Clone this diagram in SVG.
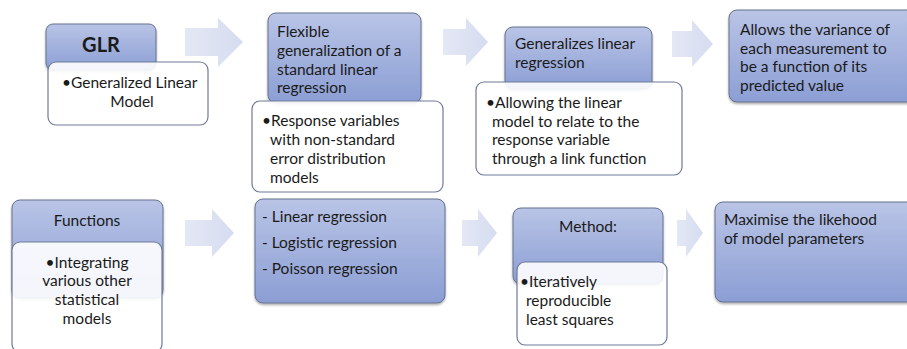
<svg xmlns="http://www.w3.org/2000/svg" width="907" height="349" viewBox="0 0 907 349">
  <defs>
    <linearGradient id="blueFill" x1="0" y1="0" x2="0" y2="1">
      <stop offset="0" stop-color="#b9c4e6"/>
      <stop offset="1" stop-color="#8b9ed4"/>
    </linearGradient>
    <linearGradient id="arrowFill" x1="0" y1="0" x2="1" y2="0">
      <stop offset="0" stop-color="#e4e8f5"/>
      <stop offset="1" stop-color="#d6dcf0"/>
    </linearGradient>
    <filter id="shadow" x="-10%" y="-10%" width="120%" height="130%">
      <feDropShadow dx="0" dy="1.5" stdDeviation="1.2" flood-color="#000" flood-opacity="0.35"/>
    </filter>
  </defs>
  <style>
    .head { fill: url(#blueFill); stroke: #66728f; stroke-width: 1; filter: url(#shadow); }
    .sub { fill: #ffffff; fill-opacity: 0.9; stroke: #6f7a98; stroke-width: 1.2; }
    .arrow { fill: url(#arrowFill); stroke: none; }
    text { font-family: Lato, "Open Sans", "Liberation Sans", sans-serif; font-size: 15.5px; fill: #1a1a1a; }
    .c { text-anchor: middle; }
    .title { font-weight: bold; font-size: 20px; }
  </style>

  <rect width="907" height="349" fill="#ffffff"/>

  <!-- block arrows between steps -->
  <g id="connectors">
    <path class="arrow" d="M185,28 H218 V18 L243,42 L218,67 V56 H185 Z"/>
    <path class="arrow" d="M443,29 H466 V18 L488,42 L466,66 V55 H443 Z"/>
    <path class="arrow" d="M672,31 H692 V20 L713,44 L692,67 V57 H672 Z"/>
    <path class="arrow" d="M185,220 H212 V209 L234,233 L212,257 V246 H185 Z"/>
    <path class="arrow" d="M462,220 H478 V209 L497,233 L478,257 V246 H462 Z"/>
    <path class="arrow" d="M677,220 H686 V209 L703,233 L686,257 V246 H677 Z"/>
  </g>

  <!-- row 1 -->
  <g id="glr">
    <rect class="head" x="46" y="24" width="110" height="46" rx="7"/>
    <text class="title c" x="101" y="52">GLR</text>
    <rect class="sub" x="48" y="62" width="160" height="63" rx="8"/>
    <text x="62" y="88">•Generalized Linear</text>
    <text class="c" x="132" y="107">Model</text>
  </g>

  <g id="flexible">
    <rect class="head" x="268" y="13" width="153" height="90" rx="8"/>
    <text x="277" y="37">Flexible</text>
    <text x="277" y="56">generalization of a</text>
    <text x="277" y="75">standard linear</text>
    <text x="277" y="93">regression</text>
    <rect class="sub" x="252" y="101" width="191" height="91" rx="8"/>
    <text x="262" y="126">•Response variables</text>
    <text x="270" y="145">with non-standard</text>
    <text x="270" y="164">error distribution</text>
    <text x="270" y="183">models</text>
  </g>

  <g id="generalizes">
    <rect class="head" x="505" y="27" width="147" height="62" rx="8"/>
    <text x="515" y="49">Generalizes linear</text>
    <text x="515" y="68">regression</text>
    <rect class="sub" x="476" y="82" width="206" height="93" rx="8"/>
    <text x="486" y="108">•Allowing the linear</text>
    <text x="492" y="127">model to relate to the</text>
    <text x="492" y="145">response variable</text>
    <text x="492" y="164">through a link function</text>
  </g>

  <g id="variance">
    <rect class="head" x="729" y="10" width="190" height="92" rx="8"/>
    <text x="740" y="35">Allows the variance of</text>
    <text x="740" y="54">each measurement to</text>
    <text x="740" y="72">be a function of its</text>
    <text x="740" y="91">predicted value</text>
  </g>

  <!-- row 2 -->
  <g id="functions">
    <rect class="head" x="12" y="200" width="151" height="98" rx="8"/>
    <text class="c" x="87" y="226">Functions</text>
    <rect class="sub" x="12" y="242" width="150" height="110" rx="8"/>
    <text class="c" x="87" y="268">•Integrating</text>
    <text class="c" x="87" y="286">various other</text>
    <text class="c" x="87" y="305">statistical</text>
    <text class="c" x="87" y="324">models</text>
  </g>

  <g id="models">
    <rect class="head" x="255" y="199" width="190" height="104" rx="8"/>
    <text x="262" y="222">- Linear regression</text>
    <text x="262" y="248">- Logistic regression</text>
    <text x="262" y="274">- Poisson regression</text>
  </g>

  <g id="method">
    <rect class="head" x="513" y="208" width="150" height="76" rx="8"/>
    <text class="c" x="588" y="232">Method:</text>
    <rect class="sub" x="517" y="262" width="150" height="83" rx="8"/>
    <text x="520" y="287">•Iteratively</text>
    <text x="526" y="306">reproducible</text>
    <text x="526" y="325">least squares</text>
  </g>

  <g id="likelihood">
    <rect class="head" x="715" y="202" width="200" height="100" rx="8"/>
    <text x="724" y="225">Maximise the likehood</text>
    <text x="724" y="244">of model parameters</text>
  </g>
</svg>
